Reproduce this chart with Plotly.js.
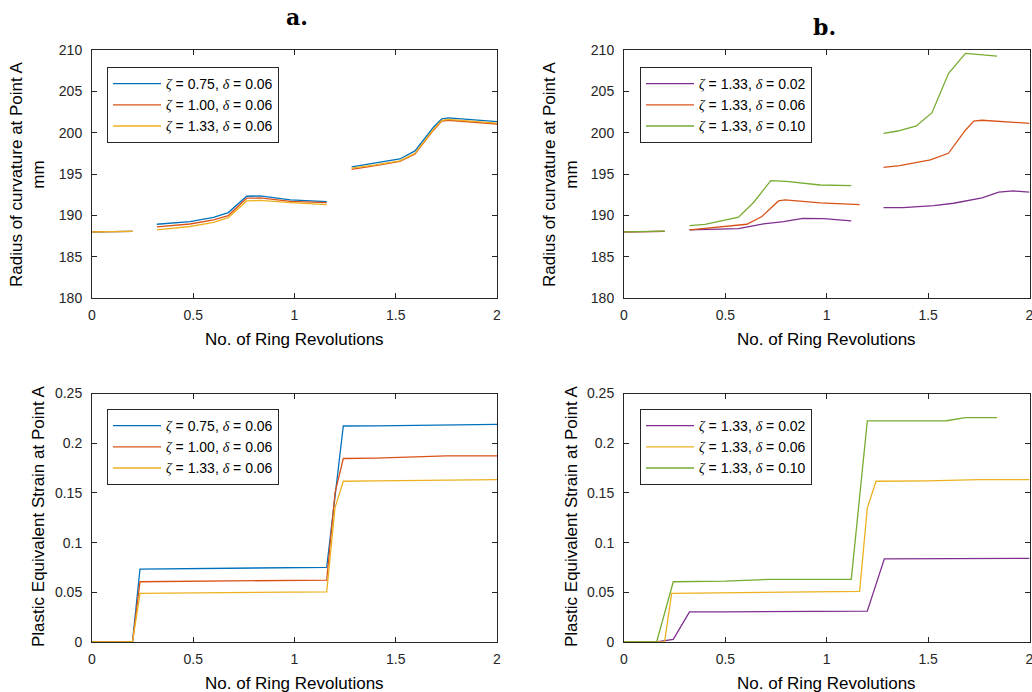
<!DOCTYPE html>
<html><head><meta charset="utf-8">
<script src="https://cdn.plot.ly/plotly-3.0.1.min.js"></script>
<style>html,body{margin:0;padding:0;background:#fff}#c{width:1032px;height:692px}</style>
</head><body><div id="c"></div>
<script>
// ---- Panel a (top): radius of curvature, delta = 0.06 ----
const xTopA = [0,0.1,0.2,null,0.32,0.484,0.6,0.673,0.764,0.83,0.98,1.159,null,1.282,1.4,1.52,1.595,1.686,1.727,1.76,2.0];
const rA075 = [188,188.03,188.05,null,188.92,189.24,189.75,190.33,192.31,192.35,191.86,191.66,null,195.85,196.3,196.82,197.79,200.65,201.66,201.78,201.33];
const rA100 = [188,188.03,188.05,null,188.6,188.95,189.45,189.97,192.07,192.1,191.7,191.54,null,195.57,196.0,196.54,197.42,200.3,201.41,201.5,201.05];
const rA133 = [188,188.03,188.05,null,188.23,188.65,189.15,189.73,191.74,191.8,191.54,191.3,null,195.7,196.1,196.6,197.5,200.4,201.5,201.6,201.15];

// ---- Panel b (top): radius of curvature, zeta = 1.33 ----
const xTopB002 = [0,0.1,0.2,null,0.323,0.45,0.565,0.688,0.787,0.882,0.985,1.121,null,1.28,1.378,1.527,1.626,1.766,1.848,1.92,2.0];
const rB002 = [188,188.02,188.05,null,188.23,188.3,188.4,188.96,189.24,189.64,189.6,189.32,null,190.94,190.94,191.18,191.46,192.1,192.8,192.95,192.8];
const xTopB006 = [0,0.1,0.2,null,0.323,0.49,0.606,0.68,0.762,0.795,0.968,1.162,null,1.28,1.36,1.511,1.6,1.684,1.725,1.765,2.0];
const rB006 = [188,188.02,188.05,null,188.23,188.64,188.92,189.85,191.74,191.86,191.5,191.3,null,195.81,196.0,196.7,197.5,200.3,201.41,201.5,201.13];
const xTopB010 = [0,0.1,0.2,null,0.323,0.4,0.565,0.64,0.724,0.8,0.968,1.121,null,1.28,1.35,1.442,1.519,1.601,1.684,1.84];
const rB010 = [188,188.05,188.1,null,188.76,188.9,189.77,191.58,194.2,194.1,193.67,193.6,null,199.92,200.2,200.81,202.42,207.18,209.6,209.27];

// ---- Panel a (bottom): plastic equivalent strain ----
const xBotA = [0,0.1,0.2,0.237,0.4,0.6,0.8,1.0,1.159,1.2,1.241,1.4,1.6,1.75,2.0];
const sA075 = [0,0,0,0.0734,0.0736,0.0740,0.0745,0.0749,0.0751,0.146,0.2173,0.2175,0.218,0.219,0.219];
const sA100 = [0,0,0,0.0606,0.061,0.0615,0.062,0.0623,0.0623,0.150,0.1846,0.185,0.186,0.1873,0.1873];
const sA133 = [0,0,0,0.0489,0.0492,0.0497,0.0503,0.0505,0.0505,0.135,0.1617,0.162,0.1625,0.1634,0.1634];

// ---- Panel b (bottom): plastic equivalent strain ----
const xBotB002 = [0,0.1,0.16,0.243,0.323,0.5,0.8,1.0,1.2,1.284,1.5,1.75,2.0];
const sB002 = [0,0,0,0.0027,0.0303,0.0304,0.0306,0.0308,0.031,0.0836,0.0838,0.0841,0.0842];
const xBotB006 = [0,0.1,0.2,0.235,0.5,0.8,1.0,1.162,1.2,1.243,1.5,1.75,2.0];
const sB006 = [0,0,0,0.0489,0.0495,0.0503,0.0507,0.0509,0.1348,0.1617,0.162,0.1634,0.1634];
const xBotB010 = [0,0.1,0.161,0.243,0.5,0.72,1.0,1.121,1.2,1.4,1.59,1.684,1.84];
const sB010 = [0,0,0,0.0606,0.0612,0.063,0.063,0.063,0.2224,0.2224,0.2226,0.2257,0.2257];

const namesA = ["0.75","1.00","1.33"];
const namesB = ["0.02","0.06","0.10"];
const panelTitles = ["a.","b."];
const xTitle = "No. of Ring Revolutions";
const yTitleTop = "Radius of curvature at Point A<br>mm";
const yTitleBot = "Plastic Equivalent Strain at Point A";

const C = {blue:"#0072BD", orange:"#D95319", yellow:"#EDB120", purple:"#7E2F8E", green:"#77AC30"};
const zeta = '<i style="font-family:Liberation Serif">ζ</i>';
const delta = '<i style="font-family:Liberation Serif">δ</i>';
const lab = (z,d) => zeta + " = " + z + ", " + delta + " = " + d;

function tr(x,y,color,name,xa,ya,leg){
  return {x:x,y:y,type:"scatter",mode:"lines",line:{color:color,width:1.3},name:name,
          xaxis:xa,yaxis:ya,legend:leg,connectgaps:false,hoverinfo:"skip"};
}
const data = [
  tr(xTopA,rA075,C.blue,lab(namesA[0],"0.06"),"x","y","legend"),
  tr(xTopA,rA100,C.orange,lab(namesA[1],"0.06"),"x","y","legend"),
  tr(xTopA,rA133,C.yellow,lab(namesA[2],"0.06"),"x","y","legend"),
  tr(xTopB002,rB002,C.purple,lab("1.33",namesB[0]),"x2","y2","legend2"),
  tr(xTopB006,rB006,C.orange,lab("1.33",namesB[1]),"x2","y2","legend2"),
  tr(xTopB010,rB010,C.green,lab("1.33",namesB[2]),"x2","y2","legend2"),
  tr(xBotA,sA075,C.blue,lab(namesA[0],"0.06"),"x3","y3","legend3"),
  tr(xBotA,sA100,C.orange,lab(namesA[1],"0.06"),"x3","y3","legend3"),
  tr(xBotA,sA133,C.yellow,lab(namesA[2],"0.06"),"x3","y3","legend3"),
  tr(xBotB002,sB002,C.purple,lab("1.33",namesB[0]),"x4","y4","legend4"),
  tr(xBotB006,sB006,C.yellow,lab("1.33",namesB[1]),"x4","y4","legend4"),
  tr(xBotB010,sB010,C.green,lab("1.33",namesB[2]),"x4","y4","legend4")
];

const W=1032,H=692;
const px = v => v/W, py = v => 1 - v/H;
const tickFont = {family:"Liberation Sans, Arial", size:14, color:"#262626"};
function xax(d0,d1,anchor){
  return {domain:[px(d0),px(d1)],anchor:anchor,range:[0,2],tickvals:[0,0.5,1,1.5,2],
    ticks:"inside",ticklen:5,tickcolor:"#262626",showline:true,linecolor:"#262626",linewidth:1,
    mirror:"ticks",showgrid:false,zeroline:false,tickfont:tickFont,automargin:false,
    ticklabelstandoff:4,ticklabeloverflow:"allow"};
}
function yax(t0,t1,anchor,range,dt){
  return {domain:[py(t1),py(t0)],anchor:anchor,range:range,dtick:dt,tick0:range[0],
    ticks:"inside",ticklen:5,tickcolor:"#262626",showline:true,linecolor:"#262626",linewidth:1,
    mirror:"ticks",showgrid:false,zeroline:false,tickfont:tickFont,automargin:false,ticklabelstandoff:6};
}
function leg(x,y){
  return {x:px(x),y:py(y),xanchor:"left",yanchor:"top",bgcolor:"#fff",bordercolor:"#262626",borderwidth:1,
    font:{family:"Liberation Sans, Arial",size:14,color:"#000"},tracegroupgap:0,itemwidth:48};
}
const axFont = {family:"Liberation Sans, Arial",size:17,color:"#000"};
const ttlFont = {family:"DejaVu Serif, Liberation Serif",size:22,color:"#000",weight:"bold"};
function ann(text,x,y,font,angle){
  return {text:text,x:px(x),y:py(y),xref:"paper",yref:"paper",showarrow:false,font:font,
          textangle:angle||0,xanchor:"center",yanchor:"middle"};
}
const layout = {
  width:W,height:H,margin:{l:0,r:0,t:0,b:0},paper_bgcolor:"#fff",plot_bgcolor:"#fff",showlegend:true,
  xaxis:xax(92,497,"y"), yaxis:yax(50,298,"x",[180,210],5),
  xaxis2:xax(624,1029.5,"y2"), yaxis2:yax(50,298,"x2",[180,210],5),
  xaxis3:xax(92,497,"y3"), yaxis3:yax(393.5,642,"x3",[0,0.25],0.05),
  xaxis4:xax(624,1029.5,"y4"), yaxis4:yax(393.5,642,"x4",[0,0.25],0.05),
  legend:leg(107,67), legend2:leg(640,67), legend3:leg(107,409), legend4:leg(640,409),
  annotations:[
    ann("<b>"+panelTitles[0]+"</b>",297,17,ttlFont),
    ann("<b>"+panelTitles[1]+"</b>",824,27,ttlFont),
    ann(xTitle,294,339,axFont), ann(xTitle,826,339,axFont),
    ann(xTitle,294,683,axFont), ann(xTitle,826,683,axFont),
    ann(yTitleTop,28,174,axFont,-90), ann(yTitleTop,561,174,axFont,-90),
    ann(yTitleBot,38,517,axFont,-90), ann(yTitleBot,571,517,axFont,-90)
  ]
};
Plotly.newPlot("c",data,layout,{staticPlot:true,displayModeBar:false});
</script></body></html>
